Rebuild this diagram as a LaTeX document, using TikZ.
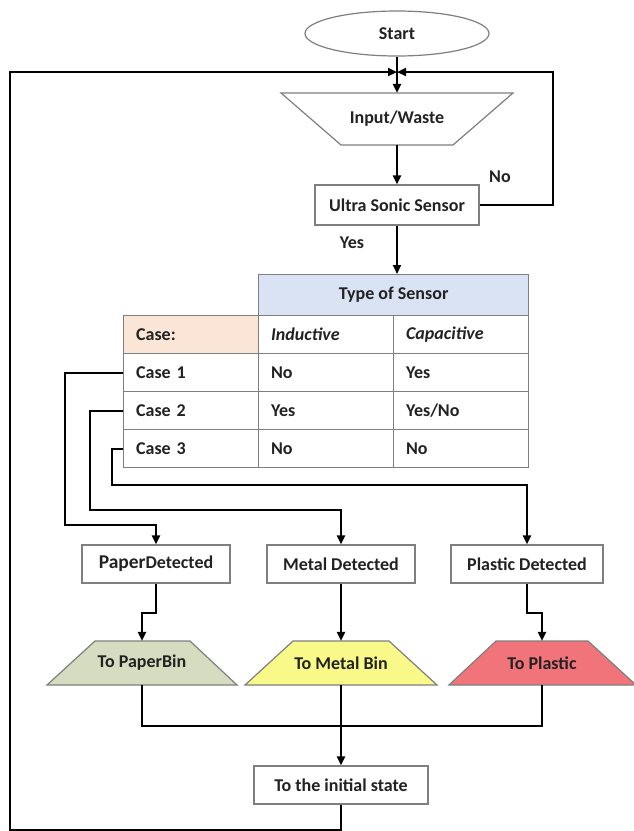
\documentclass[tikz,border=0pt]{standalone}
\usepackage{fontspec}
\setmainfont{Carlito}
\usetikzlibrary{arrows.meta,shapes.geometric}
\definecolor{bord}{HTML}{7F7F7F}
\definecolor{hdrblue}{HTML}{DAE3F3}
\definecolor{hdrorange}{HTML}{FBE5D6}
\definecolor{papergreen}{HTML}{D6DCBF}
\definecolor{metalyellow}{HTML}{F9F98A}
\definecolor{plasticred}{HTML}{F07479}
\definecolor{txt}{HTML}{222222}
\begin{document}
\begin{tikzpicture}[x=1pt,y=-1pt,
  font=\fontsize{18}{20}\selectfont\bfseries, text=txt,
  boxnode/.style={draw=bord,line width=1.2pt,fill=white,inner sep=0pt,anchor=center},
  shapetext/.style={inner sep=0pt,anchor=center},
  trapfill/.style={draw=bord,line width=1.2pt},
  cell/.style={draw=bord,line width=1.2pt,anchor=north west,inner xsep=12.5pt,inner ysep=0pt,
    text width=110pt,minimum height=38pt,align=left},
  conn/.style={line width=2.2pt,-{Triangle[length=9pt,width=8pt]}},
  plain/.style={line width=2.2pt},
  lbl/.style={inner sep=0pt,anchor=center}]
\useasboundingbox[fill=white] (0,0) rectangle (634,831);

% start
\node[boxnode,ellipse,minimum width=184pt,minimum height=45pt] (start) at (397,33.5) {Start};
\coordinate (merge) at (397,72);

% input / waste
\draw[trapfill,fill=white] (281,93) -- (513,93) -- (453,145) -- (341,145) -- cycle;
\node[shapetext,minimum width=112pt,minimum height=52pt] (inp) at (397,119) {Input/Waste};

% ultrasonic
\node[boxnode,minimum width=164pt,minimum height=40pt] (ultra) at (397,205) {Ultra Sonic Sensor};
\node[lbl] (nolbl) at (500,177) {No};
\node[lbl] (yeslbl) at (352,243) {Yes};

% table
\node[boxnode,fill=hdrblue,anchor=north west,minimum width=270pt,minimum height=41pt] (tos) at (258,274) {Type of Sensor};
\node[cell,fill=hdrorange] (hcase) at (123,315) {Case:};
\node[cell] (hind) at (258,315) {\itshape Inductive};
\node[cell] (hcap) at (393,315) {\itshape Capacitive};
\node[cell] (c1) at (123,353) {Case 1};
\node[cell] (c1i) at (258,353) {No};
\node[cell] (c1c) at (393,353) {Yes};
\node[cell] (c2) at (123,391) {Case 2};
\node[cell] (c2i) at (258,391) {Yes};
\node[cell] (c2c) at (393,391) {Yes/No};
\node[cell] (c3) at (123,429) {Case 3};
\node[cell] (c3i) at (258,429) {No};
\node[cell] (c3c) at (393,429) {No};

% detected boxes
\node[boxnode,minimum width=148pt,minimum height=38pt] (paper) at (156,564) {{\fontsize{19.5}{20}\selectfont Paper}Detected};
\node[boxnode,minimum width=148pt,minimum height=38pt] (metal) at (341,564) {Metal Detected};
\node[boxnode,minimum width=152pt,minimum height=38pt] (plastic) at (527,564) {Plastic Detected};

% bins
\draw[trapfill,fill=papergreen] (95,641) -- (190,641) -- (237,685) -- (47,685) -- cycle;
\node[shapetext,minimum width=95pt,minimum height=44pt] (ptrap) at (142,663) {To PaperBin};
\draw[trapfill,fill=metalyellow] (293,641) -- (389,641) -- (437,685) -- (245,685) -- cycle;
\node[shapetext,minimum width=96pt,minimum height=44pt] (mtrap) at (341,663) {To Metal Bin};
\draw[trapfill,fill=plasticred] (496,641) -- (588,641) -- (636,685) -- (449,685) -- cycle;
\node[shapetext,minimum width=92pt,minimum height=44pt] (rtrap) at (542,663) {To Plastic};

% final
\node[boxnode,minimum width=174pt,minimum height=38pt] (final) at (341,785) {To the initial state};
\coordinate (join) at (341,726);

% connectors top
\draw[plain] (start.south) -- (merge);
\draw[conn] (merge) -- (inp.north);
\draw[conn] (inp.south) -- (ultra.north);
\draw[conn] (ultra.east) -| (553,72) -- (merge);
\draw[conn] (ultra.south) -- (ultra.south |- tos.north);

% case connectors
\draw[conn] (c1.west) -| (65,525) -| (paper.north);
\draw[conn] (c2.west) -| (90,510) -| (metal.north);
\draw[conn] (c3.west) -| (112,485) -| (plastic.north);

% detected -> bins
\draw[conn] (paper.south) -- ++(0,29) -| (ptrap.north);
\draw[conn] (metal.south) -- (mtrap.north);
\draw[conn] (plastic.south) -- ++(0,29) -| (rtrap.north);

% bins -> final
\draw[plain] (ptrap.south) |- (join);
\draw[plain] (rtrap.south) |- (join);
\draw[conn] (mtrap.south) -- (final.north);

% loop back
\draw[conn] (final.south) -- ++(0,25) -| (10,72) -- (merge);
\end{tikzpicture}
\end{document}
